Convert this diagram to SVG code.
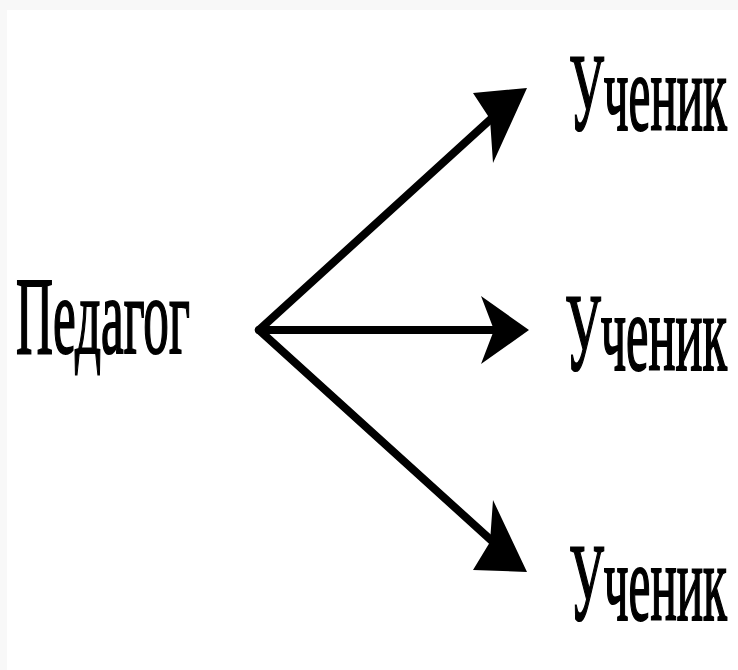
<svg xmlns="http://www.w3.org/2000/svg" width="738" height="670" viewBox="0 0 738 670">
<style>
.t{font-family:"Liberation Serif","Times New Roman",serif;font-size:110px;fill:#000;stroke:#000;stroke-width:2.2}
.l{stroke:#000;stroke-width:8;fill:none;stroke-linecap:round}
.h{fill:#000}
</style>
<rect width="738" height="670" fill="#fff"/>
<rect x="0" y="0" width="738" height="10" fill="#f8f8f8"/>
<rect x="0" y="0" width="7" height="670" fill="#f8f8f8"/>
<g id="connectors">
<line class="l" x1="259" y1="330" x2="492" y2="118"/>
<line class="l" x1="259" y1="330" x2="495" y2="330"/>
<line class="l" x1="259" y1="330" x2="492" y2="541"/>
<polygon class="h" points="527,88 473,93 490,119 493,163"/>
<polygon class="h" points="529,330 481,296 494,330 481,364"/>
<polygon class="h" points="527,572 493,500 490,542 473,570"/>
</g>
<g id="teacher" transform="translate(16,353) scale(0.46,1)"><text class="t" x="0" y="0" textLength="378" lengthAdjust="spacingAndGlyphs">Педагог</text></g>
<g id="student1" transform="translate(569,130) scale(0.45,1)"><text class="t" x="0" y="0" textLength="351" lengthAdjust="spacingAndGlyphs">Ученик</text></g>
<g id="student2" transform="translate(565,370) scale(0.45,1)"><text class="t" x="0" y="0" textLength="360" lengthAdjust="spacingAndGlyphs">Ученик</text></g>
<g id="student3" transform="translate(569,620) scale(0.45,1)"><text class="t" x="0" y="0" textLength="351" lengthAdjust="spacingAndGlyphs">Ученик</text></g>
</svg>
